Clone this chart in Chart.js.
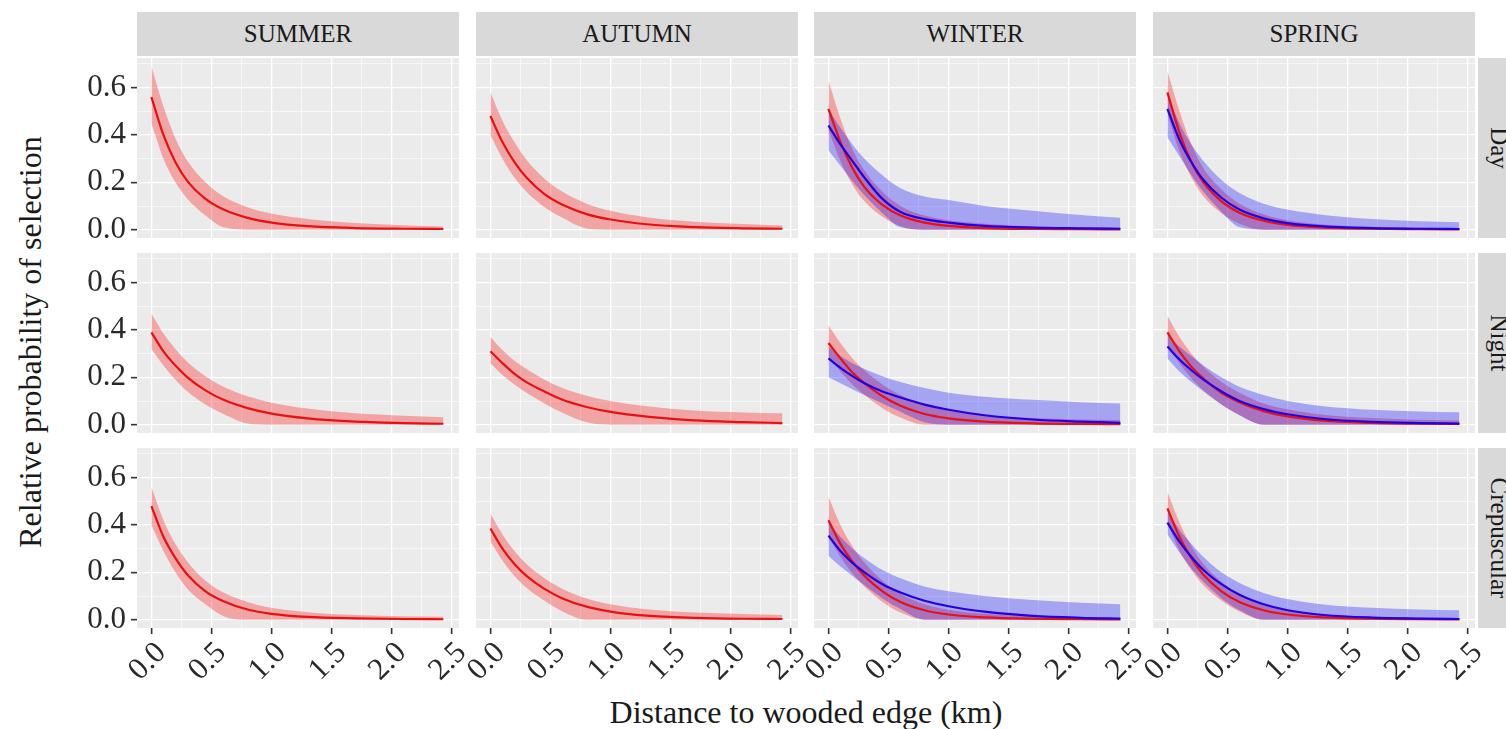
<!DOCTYPE html>
<html>
<head>
<meta charset="utf-8">
<script src="https://cdn.jsdelivr.net/npm/chart.js@4.4.1/dist/chart.umd.min.js"></script>
<style>
  body { margin: 0; background: #fff; }
  #page {
    position: relative; width: 1506px; height: 729px; overflow: hidden;
    font-family: 'Liberation Serif', 'Times New Roman', serif; color: #1a1a1a;
  }
  canvas.panel { position: absolute; }
  .strip {
    position: absolute; background: #d9d9d9; font-size: 25px;
    display: flex; align-items: center; justify-content: center; white-space: nowrap;
  }
  .strip.side span { transform: rotate(90deg); }
  .title { position: absolute; font-size: 32px; white-space: nowrap; }
</style>
</head>
<body>
<div id="page"></div>
<script>
// ── Data ────────────────────────────────────────────────────

const seasons = ['SUMMER', 'AUTUMN', 'WINTER', 'SPRING'];
const periods = ['Day', 'Night', 'Crepuscular'];
const distKm  = [0, 0.1, 0.2, 0.3, 0.45, 0.6, 0.8, 1.0, 1.3, 1.7, 2.1, 2.43];
const xTicks  = [0, 0.25, 0.5, 0.75, 1, 1.25, 1.5, 1.75, 2, 2.25, 2.5];
const yTicks  = [0, 0.1, 0.2, 0.3, 0.4, 0.5, 0.6, 0.7];

// Day — red curves per season (summer, autumn, winter, spring)
const dayRedMid = [
  [0.56, 0.40, 0.285, 0.205, 0.13, 0.085, 0.05, 0.03, 0.015, 0.007, 0.004, 0.003],
  [0.48, 0.37, 0.285, 0.22, 0.15, 0.105, 0.066, 0.043, 0.023, 0.011, 0.006, 0.004],
  [0.51, 0.37, 0.26, 0.18, 0.105, 0.06, 0.03, 0.016, 0.007, 0.003, 0.002, 0.001],
  [0.58, 0.41, 0.285, 0.20, 0.12, 0.072, 0.038, 0.02, 0.009, 0.004, 0.002, 0.001]
];
const dayRedHigh = [
  [0.69, 0.52, 0.385, 0.29, 0.20, 0.14, 0.095, 0.068, 0.045, 0.028, 0.019, 0.014],
  [0.58, 0.46, 0.37, 0.295, 0.215, 0.16, 0.11, 0.08, 0.053, 0.034, 0.024, 0.018],
  [0.63, 0.47, 0.34, 0.25, 0.16, 0.10, 0.06, 0.04, 0.025, 0.015, 0.01, 0.008],
  [0.67, 0.50, 0.36, 0.26, 0.17, 0.11, 0.065, 0.04, 0.022, 0.012, 0.008, 0.006]
];
const dayRedLow = [
  [0.45, 0.30, 0.20, 0.13, 0.06, 0.01, 0, 0, 0, 0, 0, 0],
  [0.40, 0.30, 0.22, 0.16, 0.095, 0.05, 0.005, 0, 0, 0, 0, 0],
  [0.42, 0.29, 0.19, 0.12, 0.055, 0.015, 0, 0, 0, 0, 0, 0],
  [0.49, 0.33, 0.22, 0.14, 0.07, 0.025, 0, 0, 0, 0, 0, 0]
];
// Day — blue curves (winter, spring only)
const dayBlueMid = [null, null,
  [0.44, 0.36, 0.29, 0.22, 0.13, 0.075, 0.045, 0.03, 0.016, 0.009, 0.006, 0.004],
  [0.51, 0.38, 0.285, 0.21, 0.135, 0.085, 0.048, 0.028, 0.014, 0.007, 0.004, 0.003]
];
const dayBlueHigh = [null, null,
  [0.51, 0.43, 0.36, 0.30, 0.23, 0.175, 0.14, 0.125, 0.10, 0.08, 0.062, 0.05],
  [0.57, 0.45, 0.36, 0.29, 0.21, 0.155, 0.11, 0.085, 0.062, 0.045, 0.036, 0.032]
];
const dayBlueLow = [null, null,
  [0.335, 0.27, 0.205, 0.145, 0.07, 0.01, 0, 0, 0, 0, 0, 0],
  [0.39, 0.31, 0.23, 0.16, 0.075, 0.01, 0, 0, 0, 0, 0, 0]
];

// Night
const nightRedMid = [
  [0.39, 0.31, 0.25, 0.20, 0.145, 0.105, 0.07, 0.047, 0.027, 0.013, 0.007, 0.004],
  [0.31, 0.26, 0.215, 0.18, 0.14, 0.105, 0.075, 0.054, 0.034, 0.018, 0.011, 0.007],
  [0.345, 0.28, 0.22, 0.175, 0.12, 0.08, 0.045, 0.027, 0.013, 0.006, 0.003, 0.002],
  [0.39, 0.31, 0.245, 0.195, 0.135, 0.095, 0.057, 0.035, 0.017, 0.008, 0.004, 0.003]
];
const nightRedHigh = [
  [0.47, 0.385, 0.32, 0.265, 0.205, 0.16, 0.12, 0.093, 0.068, 0.048, 0.038, 0.032],
  [0.37, 0.315, 0.27, 0.235, 0.19, 0.155, 0.122, 0.10, 0.078, 0.06, 0.052, 0.048],
  [0.42, 0.345, 0.28, 0.23, 0.17, 0.125, 0.085, 0.06, 0.04, 0.028, 0.022, 0.02],
  [0.46, 0.37, 0.30, 0.245, 0.18, 0.135, 0.09, 0.065, 0.042, 0.028, 0.021, 0.018]
];
const nightRedLow = [
  [0.32, 0.25, 0.19, 0.14, 0.085, 0.045, 0.005, 0, 0, 0, 0, 0],
  [0.26, 0.21, 0.17, 0.135, 0.09, 0.05, 0.01, 0, 0, 0, 0, 0],
  [0.29, 0.225, 0.17, 0.125, 0.07, 0.03, 0, 0, 0, 0, 0, 0],
  [0.33, 0.26, 0.195, 0.145, 0.085, 0.04, 0, 0, 0, 0, 0, 0]
];
const nightBlueMid = [null, null,
  [0.28, 0.24, 0.205, 0.175, 0.14, 0.115, 0.085, 0.063, 0.04, 0.022, 0.013, 0.008],
  [0.33, 0.275, 0.23, 0.19, 0.14, 0.10, 0.066, 0.044, 0.024, 0.012, 0.007, 0.005]
];
const nightBlueHigh = [null, null,
  [0.33, 0.29, 0.26, 0.235, 0.205, 0.18, 0.155, 0.135, 0.118, 0.105, 0.095, 0.09],
  [0.38, 0.33, 0.29, 0.25, 0.20, 0.16, 0.125, 0.10, 0.078, 0.063, 0.056, 0.053]
];
const nightBlueLow = [null, null,
  [0.20, 0.175, 0.15, 0.125, 0.09, 0.055, 0.01, 0, 0, 0, 0, 0],
  [0.28, 0.225, 0.18, 0.14, 0.085, 0.04, 0, 0, 0, 0, 0, 0]
];

// Crepuscular
const crepRedMid = [
  [0.48, 0.35, 0.26, 0.19, 0.12, 0.078, 0.043, 0.025, 0.012, 0.006, 0.003, 0.002],
  [0.385, 0.30, 0.235, 0.185, 0.13, 0.09, 0.055, 0.034, 0.017, 0.008, 0.004, 0.003],
  [0.42, 0.32, 0.245, 0.185, 0.12, 0.075, 0.04, 0.022, 0.01, 0.004, 0.002, 0.001],
  [0.47, 0.35, 0.26, 0.19, 0.12, 0.075, 0.04, 0.022, 0.01, 0.004, 0.002, 0.001]
];
const crepRedHigh = [
  [0.56, 0.42, 0.32, 0.245, 0.165, 0.115, 0.075, 0.05, 0.032, 0.02, 0.015, 0.012],
  [0.45, 0.36, 0.29, 0.235, 0.175, 0.13, 0.09, 0.065, 0.044, 0.03, 0.024, 0.02],
  [0.52, 0.40, 0.31, 0.24, 0.165, 0.11, 0.065, 0.042, 0.025, 0.015, 0.01, 0.008],
  [0.54, 0.41, 0.31, 0.235, 0.16, 0.105, 0.062, 0.04, 0.022, 0.013, 0.009, 0.007]
];
const crepRedLow = [
  [0.40, 0.29, 0.20, 0.13, 0.065, 0.015, 0, 0, 0, 0, 0, 0],
  [0.33, 0.25, 0.185, 0.135, 0.08, 0.035, 0, 0, 0, 0, 0, 0],
  [0.35, 0.265, 0.195, 0.14, 0.075, 0.03, 0, 0, 0, 0, 0, 0],
  [0.41, 0.29, 0.21, 0.145, 0.08, 0.035, 0, 0, 0, 0, 0, 0]
];
const crepBlueMid = [null, null,
  [0.355, 0.29, 0.24, 0.20, 0.15, 0.115, 0.08, 0.057, 0.034, 0.016, 0.008, 0.005],
  [0.41, 0.33, 0.265, 0.21, 0.15, 0.105, 0.065, 0.04, 0.02, 0.009, 0.005, 0.003]
];
const crepBlueHigh = [null, null,
  [0.41, 0.35, 0.30, 0.26, 0.21, 0.175, 0.14, 0.12, 0.10, 0.083, 0.072, 0.065],
  [0.46, 0.38, 0.32, 0.265, 0.20, 0.155, 0.113, 0.087, 0.064, 0.05, 0.043, 0.04]
];
const crepBlueLow = [null, null,
  [0.27, 0.225, 0.185, 0.145, 0.09, 0.045, 0, 0, 0, 0, 0, 0],
  [0.36, 0.285, 0.215, 0.16, 0.09, 0.04, 0, 0, 0, 0, 0, 0]
];

const rowData = [
  { mid: dayRedMid,   high: dayRedHigh,   low: dayRedLow,   bMid: dayBlueMid,   bHigh: dayBlueHigh,   bLow: dayBlueLow },
  { mid: nightRedMid, high: nightRedHigh, low: nightRedLow, bMid: nightBlueMid, bHigh: nightBlueHigh, bLow: nightBlueLow },
  { mid: crepRedMid,  high: crepRedHigh,  low: crepRedLow,  bMid: crepBlueMid,  bHigh: crepBlueHigh,  bLow: crepBlueLow }
];

// ── Layout ───────────────────────────────────────────────────

const colLeft = [137, 476, 814, 1153];
const rowTop  = [58, 253, 448];
const panelW  = 322;
const panelH  = 180;
const padL = 110, padR = 40, padT = 10, padB = 100;

const RED  = '#e81010';
const BLUE = '#2200e6';
const RED_FILL  = 'rgba(255,0,0,0.30)';
const BLUE_FILL = 'rgba(0,0,255,0.30)';
const tickFont = { family: 'Liberation Serif', size: 31 };

const page = document.getElementById('page');

const panelBg = {
  id: 'panelBg',
  beforeDraw(chart) {
    const a = chart.chartArea, c = chart.ctx;
    c.save();
    c.fillStyle = '#ebebeb';
    c.fillRect(a.left, a.top, a.right - a.left, a.bottom - a.top);
    c.restore();
  }
};

const pts = arr => distKm.map((x, i) => ({ x, y: arr[i] }));

function band(high, low, fillColor, idx, order) {
  return [
    { data: pts(high), fill: idx + 1, backgroundColor: fillColor, borderWidth: 0, order },
    { data: pts(low), fill: false, borderWidth: 0, order: order + 1 }
  ];
}

function line(mid, color, order) {
  return { data: pts(mid), fill: false, borderColor: color, borderWidth: 2.2, order };
}

function buildPanel(r, c) {
  const d = rowData[r];
  const hasBlue = !!d.bMid[c];
  const datasets = [...band(d.high[c], d.low[c], RED_FILL, 0, 10)];
  if (hasBlue) datasets.push(...band(d.bHigh[c], d.bLow[c], BLUE_FILL, 2, 6));
  datasets.push(line(d.mid[c], RED, 1));
  if (hasBlue) datasets.push(line(d.bMid[c], BLUE, 0));

  const showY = c === 0;
  const showX = r === rowTop.length - 1;

  const canvas = document.createElement('canvas');
  canvas.className = 'panel';
  canvas.width  = panelW + padL + padR;
  canvas.height = panelH + padT + padB;
  canvas.style.left = (colLeft[c] - padL) + 'px';
  canvas.style.top  = (rowTop[r] - padT) + 'px';
  page.appendChild(canvas);

  const isMajor = (v, step) => Math.abs(v / step - Math.round(v / step)) < 1e-6;

  new Chart(canvas, {
    type: 'line',
    data: { datasets },
    options: {
      responsive: false,
      animation: false,
      devicePixelRatio: 1,
      layout: {
        padding: { left: showY ? 0 : padL, right: padR, top: padT, bottom: showX ? 0 : padB }
      },
      elements: {
        point: { radius: 0 },
        line: { cubicInterpolationMode: 'monotone' }
      },
      plugins: { legend: { display: false }, tooltip: { enabled: false } },
      scales: {
        x: {
          type: 'linear', min: -0.12, max: 2.56,
          afterBuildTicks: s => { s.ticks = xTicks.map(v => ({ value: v })); },
          afterFit: s => {
            s.height = showX ? padB : 0;
            s.paddingLeft = 0; s.paddingRight = 0; s.paddingTop = 0; s.paddingBottom = 0;
          },
          border: { display: false },
          grid: {
            color: '#ffffff',
            lineWidth: ctx => isMajor(ctx.tick.value, 0.5) ? 1.3 : 0.6,
            drawTicks: showX,
            tickLength: 6,
            tickWidth: 1.6,
            tickColor: ctx => isMajor(ctx.tick.value, 0.5) ? '#333333' : 'rgba(0,0,0,0)'
          },
          ticks: {
            display: showX, autoSkip: false, minRotation: 45, maxRotation: 45,
            padding: 1, labelOffset: 10, color: '#2a2a2a', font: tickFont,
            callback: v => isMajor(v, 0.5) ? v.toFixed(1) : ''
          }
        },
        y: {
          type: 'linear', min: -0.035, max: 0.725,
          afterBuildTicks: s => { s.ticks = yTicks.map(v => ({ value: v })); },
          afterFit: s => {
            s.width = showY ? padL : 0;
            s.paddingLeft = 0; s.paddingRight = 0; s.paddingTop = 0; s.paddingBottom = 0;
          },
          border: { display: false },
          grid: {
            color: '#ffffff',
            lineWidth: ctx => isMajor(ctx.tick.value, 0.2) ? 1.3 : 0.6,
            drawTicks: showY,
            tickLength: 6,
            tickWidth: 1.6,
            tickColor: ctx => isMajor(ctx.tick.value, 0.2) ? '#333333' : 'rgba(0,0,0,0)'
          },
          ticks: {
            display: showY, autoSkip: false, padding: 5, color: '#2a2a2a', font: tickFont,
            callback: v => isMajor(v, 0.2) ? v.toFixed(1) : ''
          }
        }
      }
    },
    plugins: [panelBg]
  });
}

// ── Strips & titles ─────────────────────────────────────────

function addDiv(cls, html, css) {
  const el = document.createElement('div');
  el.className = cls;
  el.innerHTML = html;
  Object.assign(el.style, css);
  page.appendChild(el);
}

seasons.forEach((s, c) => addDiv('strip', s, {
  left: colLeft[c] + 'px', top: '12px', width: panelW + 'px', height: '44px'
}));
periods.forEach((p, r) => addDiv('strip side', '<span>' + p + '</span>', {
  left: '1478px', top: rowTop[r] + 'px', width: '42px', height: panelH + 'px'
}));

addDiv('title', 'Distance to wooded edge (km)', {
  left: '806px', top: '712px', transform: 'translate(-50%, -50%)'
});
addDiv('title', 'Relative probability of selection', {
  left: '30px', top: '342px', transform: 'translate(-50%, -50%) rotate(-90deg)'
});

for (let r = 0; r < rowTop.length; r++)
  for (let c = 0; c < colLeft.length; c++) buildPanel(r, c);
</script>
</body>
</html>
